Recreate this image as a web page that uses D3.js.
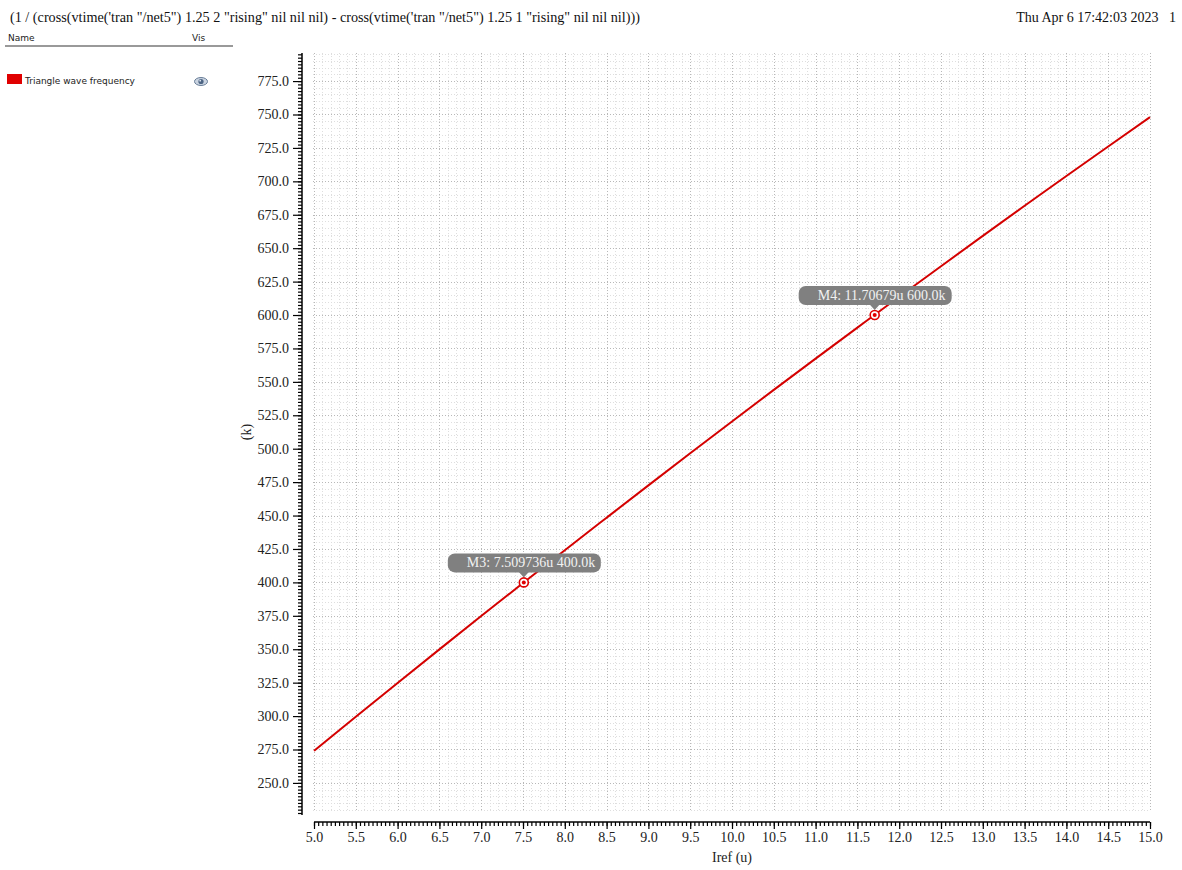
<!DOCTYPE html>
<html>
<head>
<meta charset="utf-8">
<script src="https://cdn.jsdelivr.net/npm/d3@7"></script>
<style>
  html, body { margin: 0; padding: 0; background: #fff; }
  svg { display: block; }
</style>
</head>
<body>
<svg id="chart" width="1182" height="870"></svg>
<script>
// ---- data ----
const titleText = '(1 / (cross(vtime(\'tran "/net5") 1.25 2 "rising" nil nil nil) - cross(vtime(\'tran "/net5") 1.25 1 "rising" nil nil nil)))';
const dateText = "Thu Apr 6 17:42:03 2023   1";
const seriesName = "Triangle wave frequency";
const xLabel = "Iref (u)";
const yLabel = "(k)";
const irefValues = [5.0, 5.5, 6.0, 6.5, 7.0, 7.5, 8.0, 8.5, 9.0, 9.5, 10.0, 10.5, 11.0, 11.5, 12.0, 12.5, 13.0, 13.5, 14.0, 14.5, 15.0];
const freqValues = [274.0, 299.5, 324.8, 349.9, 374.8, 399.5, 424.1, 448.4, 472.6, 496.6, 520.4, 544.0, 567.4, 590.6, 613.7, 636.5, 659.2, 681.7, 704.0, 726.1, 748.0];
const markerNames = ["M3", "M4"];
const markerX = [7.509736, 11.70679];
const markerY = [400.0, 600.0];
const markerLabels = ["M3: 7.509736u 400.0k", "M4: 11.70679u 600.0k"];
const xMajorTicks = d3.range(0, 21).map(i => 5 + i * 0.5);
const yMajorTicks = d3.range(0, 22).map(i => 250 + i * 25);

// ---- layout ----
const svg = d3.select("#chart");
const serif = "'Liberation Serif', 'DejaVu Serif', serif";
const sans = "'DejaVu Sans', 'Liberation Sans', sans-serif";

const x = d3.scaleLinear().domain([5, 15]).range([314, 1150]);
const y = d3.scaleLinear().domain([226, 796]).range([815, 53]);
const gridTop = 53, gridBottom = 812, gridLeft = 313, gridRight = 1150;

// header
svg.append("text").attr("x", 10).attr("y", 22).attr("font-family", serif).attr("font-size", 14.2)
  .attr("fill", "#111").text(titleText);
svg.append("text").attr("x", 1176).attr("y", 22).attr("text-anchor", "end").attr("font-family", serif)
  .attr("font-size", 14).attr("fill", "#111").attr("xml:space", "preserve").style("white-space", "pre").text(dateText);

// legend panel
svg.append("text").attr("x", 8).attr("y", 41).attr("font-family", sans).attr("font-size", 9).attr("fill", "#222").text("Name");
svg.append("text").attr("x", 192).attr("y", 41).attr("font-family", sans).attr("font-size", 9).attr("fill", "#222").text("Vis");
svg.append("line").attr("x1", 5).attr("x2", 233).attr("y1", 46).attr("y2", 46).attr("stroke", "#777").attr("stroke-width", 1.5);
svg.append("rect").attr("x", 7).attr("y", 74).attr("width", 15).attr("height", 10).attr("fill", "#e00000");
svg.append("text").attr("x", 25).attr("y", 84).attr("font-family", sans).attr("font-size", 9).attr("fill", "#222").text(seriesName);
// eye icon
const eye = svg.append("g").attr("transform", "translate(201,81.5)");
eye.append("ellipse").attr("rx", 6.5).attr("ry", 4).attr("fill", "#c9d3e0").attr("stroke", "#6a7f99").attr("stroke-width", 1);
eye.append("circle").attr("r", 2.6).attr("fill", "#4d6584");
eye.append("circle").attr("r", 0.9).attr("cx", -0.8).attr("cy", -0.8).attr("fill", "#dfe6ef");

// grid
const grid = svg.append("g");
const xMinorGrid = d3.range(0, 101).map(i => 5 + i * 0.1).filter(v => Math.abs(v * 2 - Math.round(v * 2)) > 1e-6);
const yMinorGrid = d3.range(230, 796, 5).filter(v => v % 25 !== 0);
grid.selectAll(".vx").data(xMinorGrid).join("line")
  .attr("x1", d => Math.round(x(d)) + 0.5).attr("x2", d => Math.round(x(d)) + 0.5)
  .attr("y1", gridTop).attr("y2", gridBottom)
  .attr("stroke", "#dedede").attr("stroke-width", 1).attr("stroke-dasharray", "1,2");
grid.selectAll(".hy").data(yMinorGrid).join("line")
  .attr("y1", d => Math.round(y(d)) + 0.5).attr("y2", d => Math.round(y(d)) + 0.5)
  .attr("x1", gridLeft).attr("x2", gridRight)
  .attr("stroke", "#dedede").attr("stroke-width", 1).attr("stroke-dasharray", "1,2");
grid.selectAll(".vX").data(xMajorTicks).join("line")
  .attr("x1", d => Math.round(x(d)) + 0.5).attr("x2", d => Math.round(x(d)) + 0.5)
  .attr("y1", gridTop).attr("y2", gridBottom)
  .attr("stroke", "#b8b8b8").attr("stroke-width", 1).attr("stroke-dasharray", "1,2");
grid.selectAll(".hY").data(yMajorTicks.filter(v => v <= 795)).join("line")
  .attr("y1", d => Math.round(y(d)) + 0.5).attr("y2", d => Math.round(y(d)) + 0.5)
  .attr("x1", gridLeft).attr("x2", gridRight)
  .attr("stroke", "#b8b8b8").attr("stroke-width", 1).attr("stroke-dasharray", "1,2");

// y axis (offset to the left)
const yAxisX = 302;
const yMinor = d3.range(0, 229).map(i => 227.5 + i * 2.5).filter(v => v <= 795.5);
const yAxisG = svg.append("g").attr("transform", `translate(${yAxisX},0)`);
yAxisG.append("g").call(d3.axisLeft(y).tickValues(yMinor).tickSize(4).tickFormat(""))
  .call(g => g.select(".domain").remove())
  .call(g => g.selectAll("line").attr("stroke", "#000").attr("stroke-width", 1.2));
yAxisG.append("g").call(d3.axisLeft(y).tickValues(yMajorTicks.filter(v => v <= 795)).tickSize(9).tickPadding(4).tickFormat(d3.format(".1f")))
  .call(g => g.select(".domain").attr("d", `M0,${y(796)}V${y(226)}`).attr("stroke", "#000").attr("stroke-width", 1.5))
  .call(g => g.selectAll("line").attr("stroke", "#000").attr("stroke-width", 1.2))
  .call(g => g.selectAll("text").attr("font-family", serif).attr("font-size", 14).attr("fill", "#222"));

// x axis (offset below)
const xAxisY = 822;
const xMinor = d3.range(0, 201).map(i => 5 + i * 0.05);
const xAxisG = svg.append("g").attr("transform", `translate(0,${xAxisY})`);
xAxisG.append("g").call(d3.axisBottom(x).tickValues(xMinor).tickSize(4).tickFormat(""))
  .call(g => g.select(".domain").remove())
  .call(g => g.selectAll("line").attr("stroke", "#000").attr("stroke-width", 1.2));
xAxisG.append("g").call(d3.axisBottom(x).tickValues(xMajorTicks).tickSize(7).tickPadding(3).tickFormat(d3.format(".1f")))
  .call(g => g.select(".domain").attr("d", `M${x(5)},0H${x(15)}`).attr("stroke", "#000").attr("stroke-width", 1.5))
  .call(g => g.selectAll("line").attr("stroke", "#000").attr("stroke-width", 1.2))
  .call(g => g.selectAll("text").attr("font-family", serif).attr("font-size", 14).attr("fill", "#222"));

// axis labels
svg.append("text").attr("x", 732).attr("y", 862).attr("text-anchor", "middle").attr("font-family", serif)
  .attr("font-size", 14).attr("fill", "#222").text(xLabel);
svg.append("text").attr("transform", "translate(251,432) rotate(-90)").attr("text-anchor", "middle")
  .attr("font-family", serif).attr("font-size", 14).attr("fill", "#222").text(yLabel);

// series line
const lineData = irefValues.map((v, i) => [v, freqValues[i]]);
svg.append("path").datum(lineData)
  .attr("d", d3.line().x(d => x(d[0])).y(d => y(d[1])).curve(d3.curveMonotoneX))
  .attr("fill", "none").attr("stroke", "#d40000").attr("stroke-width", 2);

// markers
markerNames.forEach((name, i) => {
  const px = x(markerX[i]), py = y(markerY[i]);
  const g = svg.append("g");
  g.append("circle").attr("cx", px).attr("cy", py).attr("r", 4.5).attr("fill", "#fff").attr("stroke", "#e00000").attr("stroke-width", 1.6);
  g.append("circle").attr("cx", px).attr("cy", py).attr("r", 2).attr("fill", "#e00000");
  g.append("rect").attr("x", px - 76).attr("y", py - 29).attr("width", 153).attr("height", 19).attr("rx", 7)
    .attr("fill", "#808080");
  g.append("path").attr("d", `M${px - 5},${py - 10.5}L${px},${py - 5}L${px + 5},${py - 10.5}Z`).attr("fill", "#808080");
  g.append("text").attr("x", px - 57).attr("y", py - 15).attr("font-family", serif).attr("font-size", 14)
    .attr("fill", "#f2f2f2").text(markerLabels[i]);
});
</script>
</body>
</html>
